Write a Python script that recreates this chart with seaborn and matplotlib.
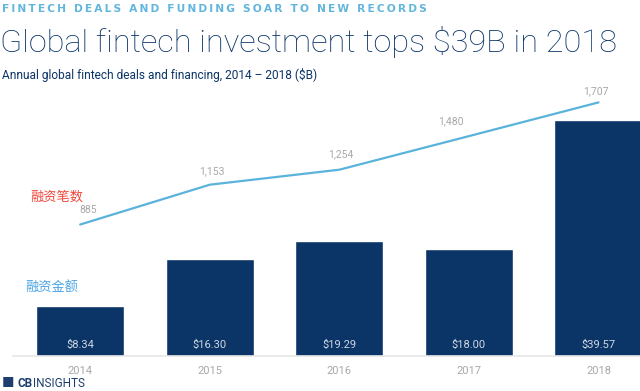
import matplotlib.pyplot as plt
import seaborn as sns
import pandas as pd

years = ["2014", "2015", "2016", "2017", "2018"]
funding = [8.34, 16.30, 19.29, 18.00, 39.57]
deals = [885, 1153, 1254, 1480, 1707]
funding_labels = ["$8.34", "$16.30", "$19.29", "$18.00", "$39.57"]
deal_labels = ["885", "1,153", "1,254", "1,480", "1,707"]

NAVY = "#0b3467"
LINE = "#5ab3da"
GRAY = "#a8a8a8"

sns.set_theme(style="white")
plt.rcParams["font.family"] = ["Roboto", "Noto Sans CJK SC", "DejaVu Sans"]

df = pd.DataFrame({"year": years, "funding": funding, "deals": deals})
df["pos"] = range(len(df))

fig = plt.figure(figsize=(6.4, 3.91), dpi=100)
ax = fig.add_axes([0.02, 0.0895, 0.98, 0.668])

sns.barplot(data=df, x="year", y="funding", color=NAVY, width=0.68,
            saturation=1, ax=ax)
ax.set_xlim(-0.52, 4.32)
ax.set_ylim(0, 43.8)
ax.set_xlabel("")
ax.set_ylabel("")
ax.set_yticks([])
ax.tick_params(axis="x", length=0, colors=GRAY, labelsize=8, pad=7)
for s in ["top", "right", "left"]:
    ax.spines[s].set_visible(False)
ax.spines["bottom"].set_color("#e6e6e6")
ax.spines["bottom"].set_linewidth(1.2)

for i, lab in enumerate(funding_labels):
    ax.text(i, 1.9, lab, color="#d0d8e4", ha="center", va="center", fontsize=8)

ax2 = ax.twinx()
sns.lineplot(x=df["pos"], y=df["deals"], color=LINE, linewidth=1.6, ax=ax2)
ax2.set_ylim(0, 1758)
ax2.set_xlim(-0.52, 4.32)
ax2.axis("off")

offsets = [(0.06, 62), (0.02, 55), (0.01, 70), (-0.14, 70), (-0.02, 45)]
for i, lab in enumerate(deal_labels):
    dx, dy = offsets[i]
    ax2.text(i + dx, deals[i] + dy, lab, color=GRAY, ha="center",
             va="bottom", fontsize=7.5)

renderer = fig.canvas.get_renderer()


def fit_width(txt, width_px):
    # shrink/grow font so the text spans the given pixel width
    w = txt.get_window_extent(renderer).width
    txt.set_fontsize(txt.get_fontsize() * width_px / w)


kicker = "\u2009".join("FINTECH DEALS AND FUNDING SOAR TO NEW RECORDS")
t1 = fig.text(0.003, 0.978, kicker, color="#62b6dc", fontsize=8.5,
              fontweight="bold", va="center", family="DejaVu Sans")
fit_width(t1, 428)
t2 = fig.text(0.0, 0.893, "Global fintech investment tops $39B in 2018",
              color=NAVY, fontsize=27.5, fontweight="light", va="center")
fit_width(t2, 618)
t3 = fig.text(0.003, 0.808,
              "Annual global fintech deals and financing, 2014 \u2013 2018 ($B)",
              color=NAVY, fontsize=10, va="center")
fit_width(t3, 316)

fig.text(0.047, 0.496, "融资笔数", color="#f0473c", fontsize=9.5, va="center")
fig.text(0.039, 0.264, "融资金额", color="#4aa3e6", fontsize=9.5, va="center")

fig.text(0.003, 0.018, "\u25a0", color="#1d3e6e", fontsize=9, va="center")
cb = fig.text(0.028, 0.018, "CB", color="#1d3e6e", fontsize=8.5,
              fontweight="bold", va="center")
cb_end = cb.get_window_extent(renderer).x1 / fig.bbox.width
fig.text(cb_end, 0.018, "INSIGHTS", color="#1d3e6e", fontsize=8.5, va="center")

fig.savefig("out.png", dpi=100)
